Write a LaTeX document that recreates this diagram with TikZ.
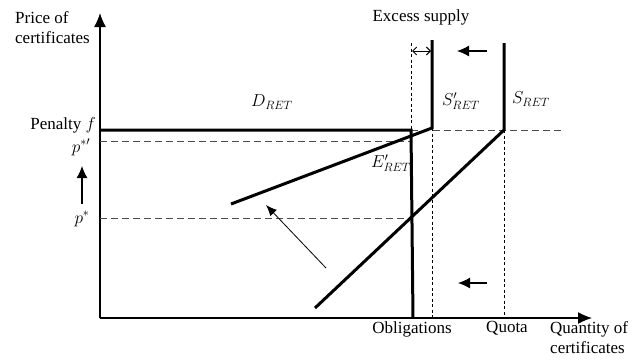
\documentclass[tikz,border=0pt]{standalone}
\usepackage{fontspec}
\setmainfont{Liberation Serif}
\usetikzlibrary{arrows.meta}
\tikzset{basic/.style={inner sep=1pt, font=\fontsize{17}{20}\selectfont}}
\tikzset{curve/.style={line width=3pt, line join=miter}}

\begin{document}
\begin{tikzpicture}[x=1pt, y=-1pt,
      % styles for clarity
      axis/.style   ={line width=1.2pt, -{Latex[length=14pt,width=12pt]}},
      guide/.style  ={line width=0.8pt, gray!60!black, dash pattern=on 7pt off 4pt},
      fine/.style   ={line width=0.8pt, dash pattern=on 3pt off 2.5pt},
      moveto/.style ={line width=1.2pt, -{Latex[length=12pt,width=11pt]}},
      label/.style  ={basic}
    ]
    \useasboundingbox (0,0) rectangle (642,360);

    % axes
    \coordinate (O)  at (100,318);
    \coordinate (yt) at (100,13);
    \coordinate (xt) at (592,318);
    \draw[axis] (O) -- (yt);
    \draw[axis] (O) -- (xt);
    \node[label, align=left, anchor=west] (py) at (14,28) {Price of\\certificates};
    \node[label, align=left, anchor=north west] (qx) at (549,320) {Quantity of\\certificates};

    % price levels
    \coordinate (f0)  at (100,130);
    \coordinate (pp0) at (100,141);
    \coordinate (p0)  at (100,218);
    \coordinate (fO)  at (411,130);
    \coordinate (ppO) at (411,141);
    \coordinate (pO)  at (412,218);
    \coordinate (fE)  at (562,130);
    \node[label, anchor=east] (pen) at (97,125) {Penalty $f$};
    \node[label, inner sep=0pt, anchor=north] (lpp) at (81,139) {$p^{*\prime}$};
    \node[label] (lp)  at (82,219) {$p^{*}$};
    \draw[guide] (pp0) -- (ppO);
    \draw[guide] (p0) -- (pO);
    \draw[guide] (fO) -- (fE);

    % quantities
    \coordinate (ob0) at (413,318);
    \coordinate (obT) at (411,43);
    \coordinate (sp0) at (432,318);
    \coordinate (spK) at (432,128);
    \coordinate (spT) at (432,40);
    \coordinate (sq0) at (504,318);
    \coordinate (sqK) at (504,130);
    \coordinate (sqT) at (504,43);
    \draw[fine] (obT) -- (fO);
    \foreach \a/\b in {spK/sp0, sqK/sq0}
      \draw[fine] (\a) -- (\b);
    \node[label, anchor=north] (obl) at (412,320) {Obligations};
    \node[label, anchor=north] (quo) at (507,320) {Quota};

    % demand and obligations
    \draw[curve] (f0) -- (fO) -- (ob0);
    \node[label] (dl) at (272,102) {$D_{RET}$};
    \node[label] (el) at (391,163) {$E'_{RET}$};

    % supply curves
    \coordinate (spL) at (231,204);
    \coordinate (sqL) at (315,308);
    \draw[curve] (spT) -- (spK) -- (spL);
    \draw[curve] (sqT) -- (sqK) -- (sqL);
    \node[label] (sl)  at (461,101) {$S'_{RET}$};
    \node[label] (sql) at (531,99)  {$S_{RET}$};

    % excess supply
    \coordinate (ex1) at (412,51);
    \coordinate (ex2) at (431,51);
    \draw[line width=0.9pt, {Straight Barb[length=4pt]}-{Straight Barb[length=4pt]}] (ex1) -- (ex2);
    \node[label] (exl) at (421,17) {Excess supply};

    % shifts
    \coordinate (a1) at (487,51);
    \coordinate (b1) at (457,51);
    \coordinate (a2) at (487,283);
    \coordinate (b2) at (458,283);
    \coordinate (a3) at (82,204);
    \coordinate (b3) at (82,166);
    \coordinate (a4) at (326,268);
    \coordinate (b4) at (266,205);
    \foreach \i in {1,2,3}
      \draw[moveto] (a\i) -- (b\i);
    \draw[line width=0.8pt, -{Latex[length=11pt,width=9pt]}] (a4) -- (b4);
\end{tikzpicture}
\end{document}
